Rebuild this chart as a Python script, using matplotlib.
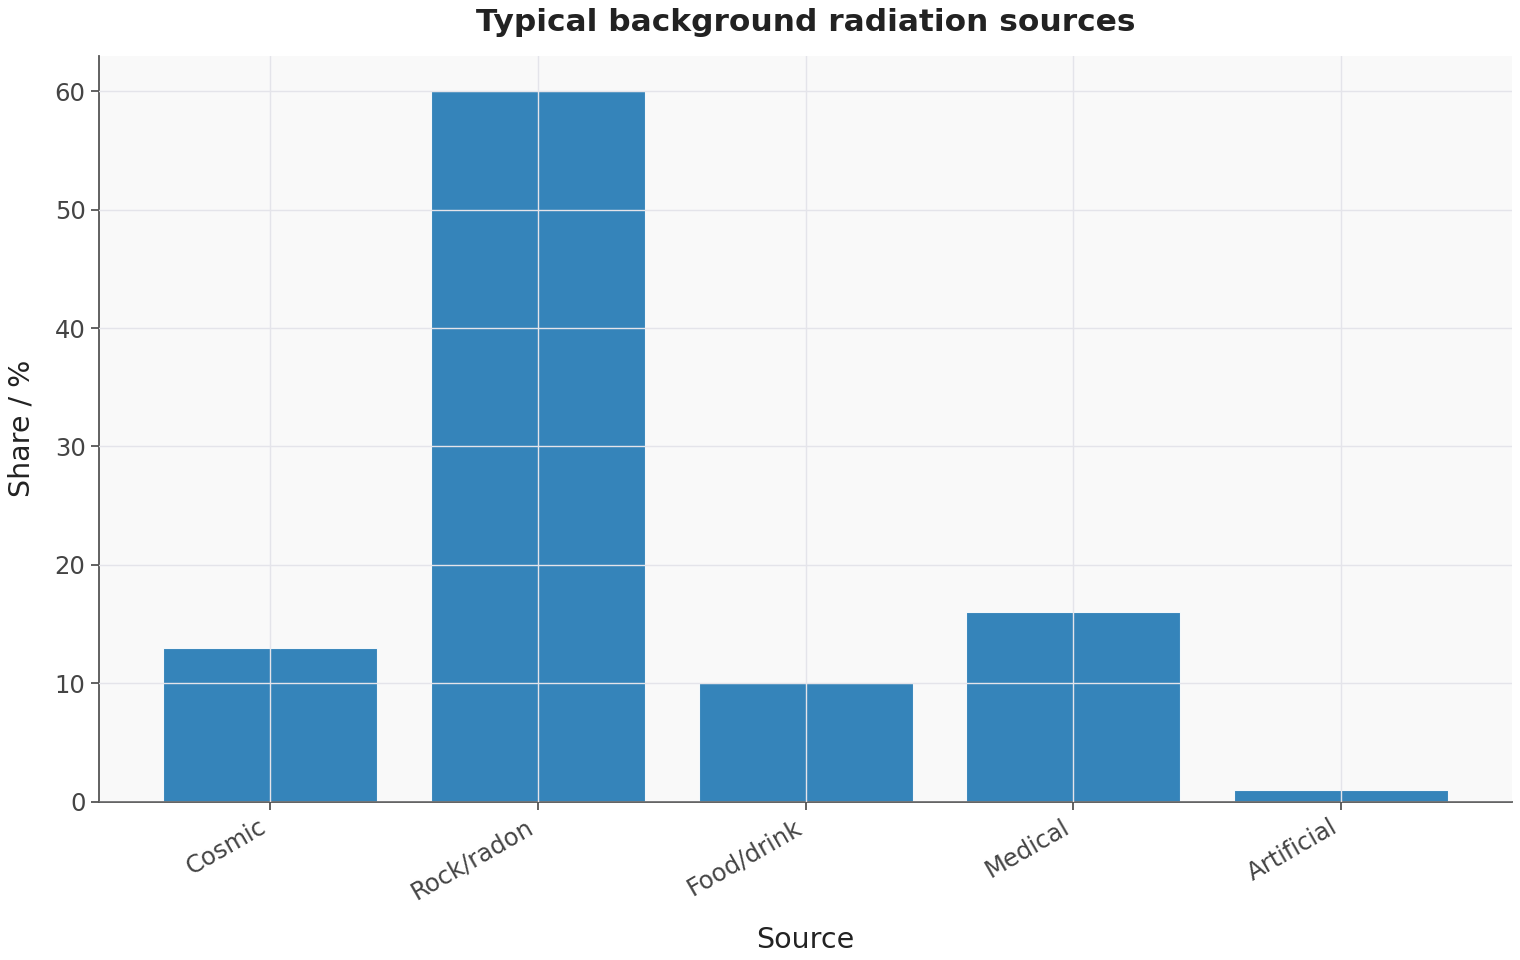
import matplotlib
matplotlib.use('Agg')
import matplotlib.pyplot as plt

# Share of typical background radiation by source
sources = ['Cosmic', 'Rock/radon', 'Food/drink', 'Medical', 'Artificial']
shares = [13, 60, 10, 16, 1]

fig, ax = plt.subplots(figsize=(15.2, 9.6), dpi=100)
ax.set_facecolor('#f9f9f9')

ax.bar(sources, shares, width=0.8, color='#1f77b4', alpha=0.9,
       edgecolor='white', linewidth=0.8)

ax.grid(True, color='#e4e4ea', linewidth=1.0)
ax.set_axisbelow(False)

for side in ['top', 'right']:
    ax.spines[side].set_visible(False)
for side in ['left', 'bottom']:
    ax.spines[side].set_color('#555555')
    ax.spines[side].set_linewidth(1.3)

ax.tick_params(axis='both', labelsize=17.5, colors='#555555', labelcolor='#444444',
               length=6, width=1.3)
plt.setp(ax.get_xticklabels(), rotation=30, ha='right')

ax.set_title('Typical background radiation sources', fontsize=22.5,
             fontweight='bold', color='#222222', pad=18)
ax.set_xlabel('Source', fontsize=20.5, color='#222222', labelpad=16)
ax.set_ylabel('Share / %', fontsize=20.5, color='#222222', labelpad=14)

plt.subplots_adjust(left=0.065, right=0.995, top=0.942, bottom=0.165)
plt.savefig('out.png')
